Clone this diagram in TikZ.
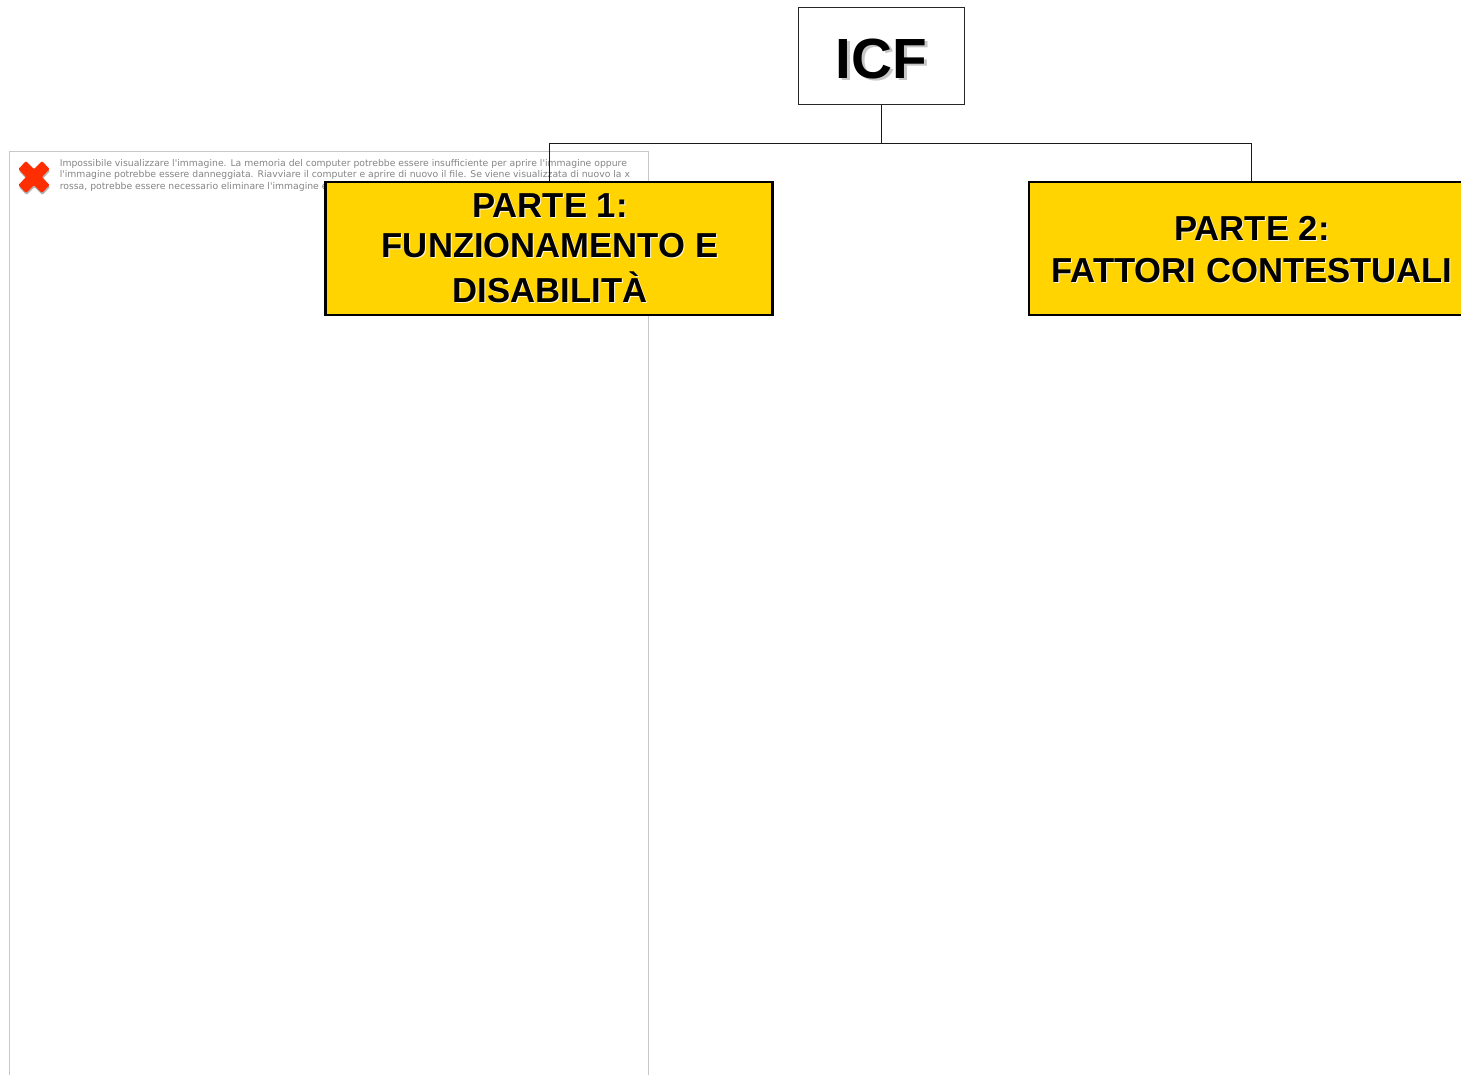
\documentclass[tikz,border=0pt]{standalone}
\usepackage{fontspec}
\setmainfont{Liberation Sans}
\newfontfamily\errfont{DejaVu Sans}
\definecolor{partyellow}{HTML}{FFD400}
\definecolor{framegray}{HTML}{C8C8C8}
\definecolor{errgray}{HTML}{858585}
\definecolor{crossred}{HTML}{FF2E00}
\tikzset{
  x=0.75pt,y=-0.75pt,
  link/.style={draw=black!90,line width=0.7pt},
  rootbox/.style={draw=black!85,line width=0.75pt,fill=white,minimum width=124.5pt,minimum height=72.75pt,inner sep=0pt},
  partbox/.style={draw=black,line width=1.9pt,fill=partyellow,minimum height=99.75pt,inner sep=0pt},
  parttext/.style={font=\fontsize{26pt}{30pt}\selectfont\bfseries,align=center,inner sep=0pt},
  rootlabel/.style={font=\fontsize{42.5pt}{48pt}\selectfont\bfseries,inner sep=0pt},
  errline/.style={font=\errfont\fontsize{6.95pt}{8.6pt}\selectfont,text=errgray,anchor=base west,inner sep=0pt},
  crossmark/.style={rounded corners=0.8pt},
}
\begin{document}
\begin{tikzpicture}
\path[use as bounding box] (0,0) rectangle (1461,1075);
\clip (0,0) rectangle (1461,1075);
\fill[white] (0,0) rectangle (1461,1075);
% missing-image placeholder
\draw[framegray,line width=0.75pt] (9,1100) -- (9,151) -- (648,151) -- (648,1100);
\fill[black!30,crossmark] (34.5,179) +(-8,-16) -- +(0,-8) -- +(8,-16) -- +(15.5,-8) -- +(8,0) -- +(15.5,8) -- +(8,16) -- +(0,8) -- +(-8,16) -- +(-15.5,8) -- +(-8,0) -- +(-15.5,-8) -- cycle;
\fill[crossred,crossmark] (34,177) +(-8,-16) -- +(0,-8) -- +(8,-16) -- +(15.5,-8) -- +(8,0) -- +(15.5,8) -- +(8,16) -- +(0,8) -- +(-8,16) -- +(-15.5,8) -- +(-8,0) -- +(-15.5,-8) -- cycle;
\node[errline] (err1) at (59.5,166) {Impossibile visualizzare l'immagine. La memoria del computer potrebbe essere insufficiente per aprire l'immagine oppure};
\node[errline] (err2) at (59.5,177.5) {l'immagine potrebbe essere danneggiata. Riavviare il computer e aprire di nuovo il file. Se viene visualizzata di nuovo la x};
\node[errline] (err3) at (59.5,189) {rossa, potrebbe essere necessario eliminare l'immagine e};
% boxes
\node[rootbox] (icf) at (881.5,55.5) {};
\node[partbox,minimum width=335.5pt] (p1) at (549,248.5) {};
\node[partbox,minimum width=333pt] (p2) at (1251,248.5) {};
% connectors
\coordinate (bus) at (881.5,143.5);
\draw[link] (icf.south) -- (bus);
\draw[link] (p1.north) -- (p1.north |- bus) -- (p2.north |- bus) -- (p2.north);
% texts
\node[rootlabel,text=black!22] (icfshadow) at (884,61) {ICF};
\node[rootlabel] (icflabel) at (881.5,58.5) {ICF};
\node[parttext,text=white!85!partyellow] (p1shadow) at (551,249.2) {PARTE 1:\\[0.1pt]FUNZIONAMENTO E\\[3.8pt]DISABILITÀ};
\node[parttext] (p1label) at (550,248.2) {PARTE 1:\\[0.1pt]FUNZIONAMENTO E\\[3.8pt]DISABILITÀ};
\node[parttext,text=white!85!partyellow] (p2shadow) at (1253,250.5) {PARTE 2:\\[1.5pt]FATTORI CONTESTUALI};
\node[parttext] (p2label) at (1252,249.5) {PARTE 2:\\[1.5pt]FATTORI CONTESTUALI};
\end{tikzpicture}
\end{document}
